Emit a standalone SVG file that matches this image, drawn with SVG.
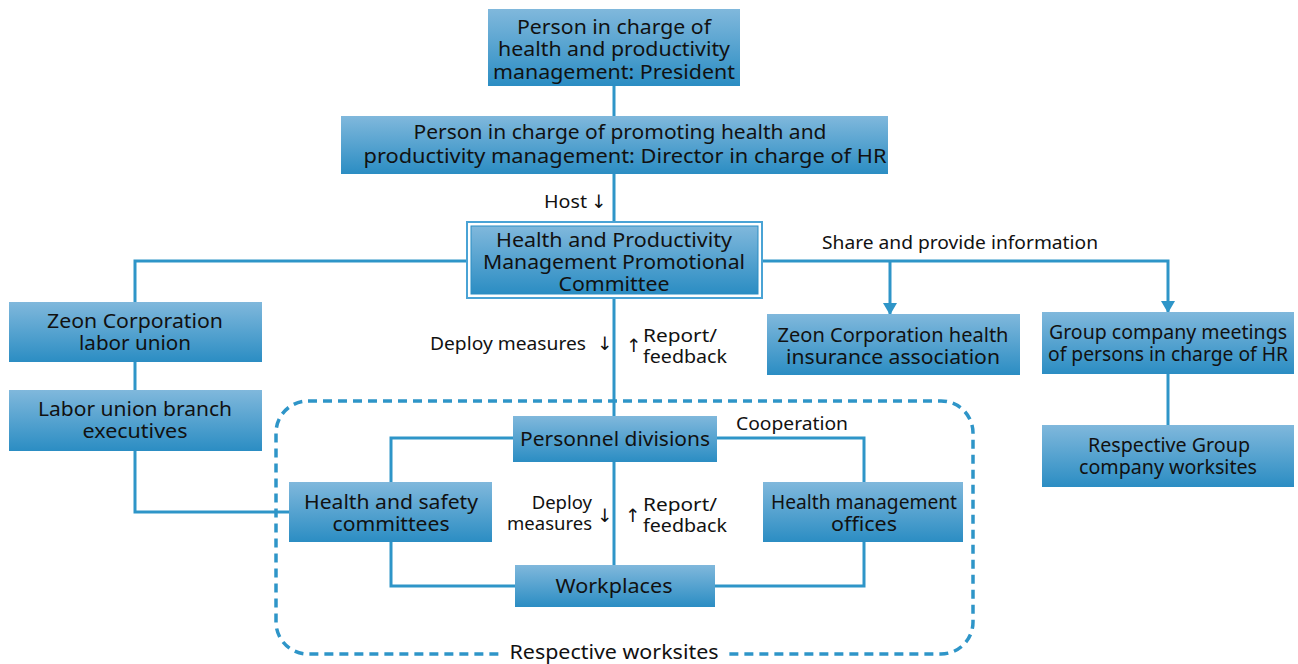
<svg xmlns="http://www.w3.org/2000/svg" width="1298" height="664" viewBox="0 0 1298 664">
<defs>
<linearGradient id="g" x1="0" y1="0" x2="0" y2="1">
<stop offset="0" stop-color="#80b8dc"/>
<stop offset="1" stop-color="#2b8dc3"/>
</linearGradient>
<marker id="arr" markerWidth="12" markerHeight="14" refX="11" refY="7" orient="auto" markerUnits="userSpaceOnUse" viewBox="0 0 12 14">
<path d="M0,0 L12,7 L0,14 Z" fill="#2e95c8"/>
</marker>
<style>
.box{fill:url(#g);}
.t{font-family:"Noto Sans","DejaVu Sans",sans-serif;font-size:20px;fill:#111;text-anchor:middle;}
.l{font-family:"Noto Sans","DejaVu Sans",sans-serif;font-size:18.5px;fill:#111;}
.ln{fill:none;stroke:#2e95c8;stroke-width:3;}
</style>
</defs>
<rect width="1298" height="664" fill="#fff"/>
<g id="connectors">
<path class="ln" d="M614,86 V116 M614,174 V221 M614,299 V434 M614,462 V565"/>
<path class="ln" d="M466,261 H135 V302 M135,362 V390 M135,451 V512 H289"/>
<path class="ln" d="M763,261 H1168 V312" marker-end="url(#arr)"/>
<path class="ln" d="M890,261 V314" marker-end="url(#arr)"/>
<path class="ln" d="M1168,374 V425"/>
<path class="ln" d="M513,438 H391 V482 M717,438 H864 V482 M391,542 V586 H515 M715,586 H864 V542"/>
<rect x="276" y="401" width="697" height="253" rx="32" fill="none" stroke="#2e95c8" stroke-width="3.5" stroke-dasharray="9,6"/>
<rect x="502" y="640" width="224" height="22" fill="#fff"/>
</g>
<g id="n1"><rect class="box" x="488" y="9" width="252" height="77"/>
<text class="t" x="614" y="34" textLength="194" lengthAdjust="spacingAndGlyphs">Person in charge of</text>
<text class="t" x="614" y="56" textLength="232" lengthAdjust="spacingAndGlyphs">health and productivity</text>
<text class="t" x="614" y="79" textLength="242" lengthAdjust="spacingAndGlyphs">management: President</text></g>
<g id="n2"><rect class="box" x="341" y="116" width="547" height="58"/>
<text class="t" x="620" y="139" textLength="413" lengthAdjust="spacingAndGlyphs">Person in charge of promoting health and</text>
<text class="t" x="625" y="163" textLength="523" lengthAdjust="spacingAndGlyphs">productivity management: Director in charge of HR</text></g>
<g id="n3"><rect x="467" y="222" width="295" height="76" fill="#fff" stroke="#4aa3d5" stroke-width="2"/>
<rect class="box" x="471" y="226" width="287" height="68" stroke="#2b8dc3" stroke-width="1"/>
<text class="t" x="614" y="247" textLength="236" lengthAdjust="spacingAndGlyphs">Health and Productivity</text>
<text class="t" x="614" y="269" textLength="262" lengthAdjust="spacingAndGlyphs">Management Promotional</text>
<text class="t" x="614" y="291" textLength="111" lengthAdjust="spacingAndGlyphs">Committee</text></g>
<g id="n4"><rect class="box" x="9" y="302" width="253" height="60"/>
<text class="t" x="135" y="328" textLength="176" lengthAdjust="spacingAndGlyphs">Zeon Corporation</text>
<text class="t" x="135" y="350" textLength="112" lengthAdjust="spacingAndGlyphs">labor union</text></g>
<g id="n5"><rect class="box" x="9" y="390" width="253" height="61"/>
<text class="t" x="135" y="416" textLength="194" lengthAdjust="spacingAndGlyphs">Labor union branch</text>
<text class="t" x="135" y="438" textLength="105" lengthAdjust="spacingAndGlyphs">executives</text></g>
<g id="n6"><rect class="box" x="767" y="314" width="253" height="61"/>
<text class="t" x="893" y="342" textLength="231" lengthAdjust="spacingAndGlyphs">Zeon Corporation health</text>
<text class="t" x="893" y="364" textLength="214" lengthAdjust="spacingAndGlyphs">insurance association</text></g>
<g id="n7"><rect class="box" x="1042" y="312" width="252" height="62"/>
<text class="t" x="1168" y="339" textLength="238" lengthAdjust="spacingAndGlyphs">Group company meetings</text>
<text class="t" x="1168" y="361" textLength="240" lengthAdjust="spacingAndGlyphs">of persons in charge of HR</text></g>
<g id="n8"><rect class="box" x="1042" y="425" width="252" height="62"/>
<text class="t" x="1169" y="452" textLength="162" lengthAdjust="spacingAndGlyphs">Respective Group</text>
<text class="t" x="1168" y="474" textLength="178" lengthAdjust="spacingAndGlyphs">company worksites</text></g>
<g id="n9"><rect class="box" x="513" y="416" width="204" height="46"/>
<text class="t" x="615" y="446" textLength="190" lengthAdjust="spacingAndGlyphs">Personnel divisions</text></g>
<g id="n10"><rect class="box" x="289" y="482" width="203" height="60"/>
<text class="t" x="391" y="509" textLength="174" lengthAdjust="spacingAndGlyphs">Health and safety</text>
<text class="t" x="391" y="531" textLength="117" lengthAdjust="spacingAndGlyphs">committees</text></g>
<g id="n11"><rect class="box" x="763" y="482" width="200" height="60"/>
<text class="t" x="864" y="509" textLength="186" lengthAdjust="spacingAndGlyphs">Health management</text>
<text class="t" x="864" y="531" textLength="66" lengthAdjust="spacingAndGlyphs">offices</text></g>
<g id="n12"><rect class="box" x="515" y="565" width="200" height="42"/>
<text class="t" x="614" y="593" textLength="117" lengthAdjust="spacingAndGlyphs">Workplaces</text></g>
<g id="labels">
<text class="l" x="544" y="208" textLength="43" lengthAdjust="spacingAndGlyphs">Host</text>
<text class="l" x="591" y="208">↓</text>
<text class="l" x="822" y="249" textLength="276" lengthAdjust="spacingAndGlyphs">Share and provide information</text>
<text class="l" x="430" y="350" textLength="156" lengthAdjust="spacingAndGlyphs">Deploy measures</text>
<text class="l" x="597" y="350">↓</text>
<text class="l" x="626" y="352">↑</text>
<text class="l" x="643" y="342" textLength="74" lengthAdjust="spacingAndGlyphs">Report/</text>
<text class="l" x="643" y="363" textLength="84" lengthAdjust="spacingAndGlyphs">feedback</text>
<text class="l" x="736" y="430" textLength="112" lengthAdjust="spacingAndGlyphs">Cooperation</text>
<text class="l" x="592" y="509" text-anchor="end">Deploy</text>
<text class="l" x="592" y="530" text-anchor="end">measures</text>
<text class="l" x="597" y="522">↓</text>
<text class="l" x="625" y="522">↑</text>
<text class="l" x="643" y="511" textLength="74" lengthAdjust="spacingAndGlyphs">Report/</text>
<text class="l" x="643" y="532" textLength="84" lengthAdjust="spacingAndGlyphs">feedback</text>
<text class="t" x="614" y="659" textLength="209" lengthAdjust="spacingAndGlyphs">Respective worksites</text>
</g>
</svg>
